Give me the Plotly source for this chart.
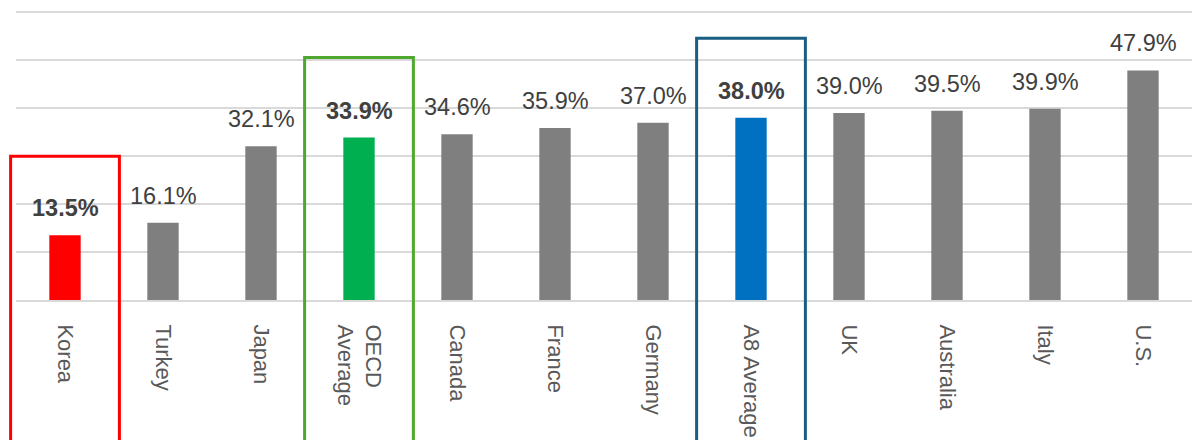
import plotly.graph_objects as go

categories = ["Korea", "Turkey", "Japan", "OECD<br>Average", "Canada", "France",
              "Germany", "A8 Average", "UK", "Australia", "Italy", "U.S."]
values = [13.5, 16.1, 32.1, 33.9, 34.6, 35.9, 37.0, 38.0, 39.0, 39.5, 39.9, 47.9]
bar_colors = ["#FF0000", "#7F7F7F", "#7F7F7F", "#00B050", "#7F7F7F", "#7F7F7F",
              "#7F7F7F", "#0070C0", "#7F7F7F", "#7F7F7F", "#7F7F7F", "#7F7F7F"]
bold_flags = [True, False, False, True, False, False, False, True, False, False, False, False]

# highlight boxes: category index, top value (in %), colour
box_index = [0, 3, 7]
box_top = [30.0, 50.6, 54.6]
box_color = ["#FF0000", "#4EA72E", "#1B5E83"]

Y_MAX = 60.5
n = len(categories)

fig = go.Figure()
fig.add_trace(go.Bar(
    x=list(range(n)), y=values, marker=dict(color=bar_colors, line=dict(width=0)),
    width=0.32, hoverinfo="skip", showlegend=False,
))

for i, (v, b) in enumerate(zip(values, bold_flags)):
    txt = f"{v:.1f}%"
    if b:
        txt = f"<b>{txt}</b>"
    fig.add_annotation(x=i, y=v, text=txt, showarrow=False, yanchor="bottom",
                       yshift=12, font=dict(family="Liberation Sans, Arial", size=23.5,
                                            color="#404040"))

for idx, top, col in zip(box_index, box_top, box_color):
    xc = (idx + 0.5) / n
    half = 0.555 / n
    fig.add_shape(type="rect", xref="paper", yref="paper",
                  x0=xc - half, x1=xc + half, y0=-0.7, y1=top / Y_MAX,
                  line=dict(color=col, width=3), fillcolor="rgba(0,0,0,0)", layer="above")

fig.update_layout(
    width=1192, height=440,
    margin=dict(l=16, r=0, t=10, b=140),
    paper_bgcolor="white", plot_bgcolor="white",
)
fig.update_xaxes(
    tickmode="array", tickvals=list(range(n)), ticktext=categories,
    tickangle=90, range=[-0.5, n - 0.5],
    tickfont=dict(family="Liberation Sans, Arial", size=22, color="#595959"),
    ticks="outside", ticklen=18, tickcolor="rgba(0,0,0,0)",
    showline=True, linecolor="#D9D9D9", linewidth=2,
    showgrid=False, zeroline=False,
)
fig.update_yaxes(
    range=[0, Y_MAX], dtick=10, showticklabels=False,
    showgrid=True, gridcolor="#D9D9D9", gridwidth=2,
    zeroline=False, showline=False,
)

fig.write_html("out.html")
